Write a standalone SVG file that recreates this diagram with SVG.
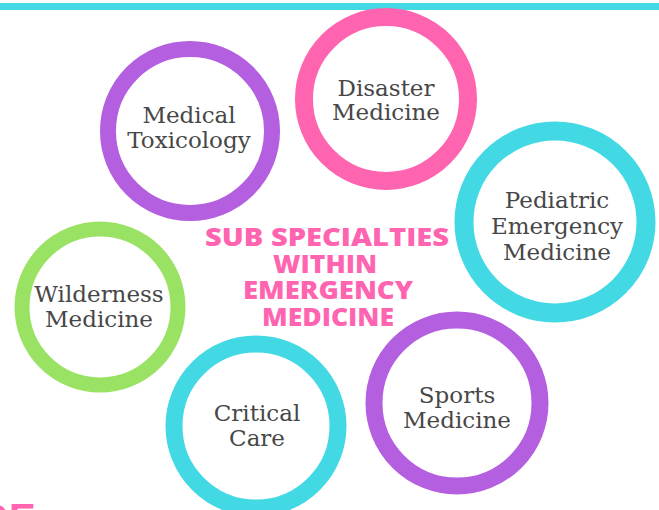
<svg xmlns="http://www.w3.org/2000/svg" width="659" height="510" viewBox="0 0 659 510">
<style>
.ring{fill:#fff;}
.lbl{font-family:"DejaVu Serif","Liberation Serif",serif;font-size:23px;fill:#474747;text-anchor:middle;}
.title{font-family:"Open Sans","Liberation Sans",sans-serif;font-weight:800;font-size:24px;fill:#ff64b0;text-anchor:middle;}
</style>
<rect width="659" height="510" fill="#fff"/>
<rect x="0" y="3" width="659" height="7" fill="#42d9e5"/>
<text x="-20" y="532" font-family="Liberation Sans,sans-serif" font-weight="bold" font-size="40" fill="#ff64b0">DE</text>
<g id="connectors"></g>
<g id="medical-toxicology">
<circle class="ring" cx="190" cy="131" r="82" stroke="#b45fe0" stroke-width="16"/>
<text class="lbl" x="189" y="123">Medical</text>
<text class="lbl" x="189" y="148">Toxicology</text>
</g>
<g id="disaster-medicine">
<circle class="ring" cx="386" cy="99" r="82" stroke="#ff64b0" stroke-width="18"/>
<text class="lbl" x="386" y="96">Disaster</text>
<text class="lbl" x="386" y="120">Medicine</text>
</g>
<g id="pediatric-emergency-medicine">
<circle class="ring" cx="555" cy="222" r="91" stroke="#42d9e5" stroke-width="19"/>
<text class="lbl" x="557" y="208">Pediatric</text>
<text class="lbl" x="557" y="234">Emergency</text>
<text class="lbl" x="557" y="260">Medicine</text>
</g>
<g id="wilderness-medicine">
<circle class="ring" cx="100" cy="307" r="78" stroke="#9ae264" stroke-width="15"/>
<text class="lbl" x="99" y="302">Wilderness</text>
<text class="lbl" x="99" y="327">Medicine</text>
</g>
<g id="critical-care">
<circle class="ring" cx="256" cy="426" r="82" stroke="#42d9e5" stroke-width="17"/>
<text class="lbl" x="257" y="421">Critical</text>
<text class="lbl" x="257" y="446">Care</text>
</g>
<g id="sports-medicine">
<circle class="ring" cx="457" cy="403" r="83" stroke="#b45fe0" stroke-width="17"/>
<text class="lbl" x="457" y="403">Sports</text>
<text class="lbl" x="457" y="428">Medicine</text>
</g>
<g id="title">
<text class="title" x="327" y="246" textLength="244" lengthAdjust="spacingAndGlyphs">SUB SPECIALTIES</text>
<text class="title" x="325" y="273" textLength="104" lengthAdjust="spacingAndGlyphs">WITHIN</text>
<text class="title" x="328" y="299" textLength="170" lengthAdjust="spacingAndGlyphs">EMERGENCY</text>
<text class="title" x="328" y="326" textLength="132" lengthAdjust="spacingAndGlyphs">MEDICINE</text>
</g>
</svg>
